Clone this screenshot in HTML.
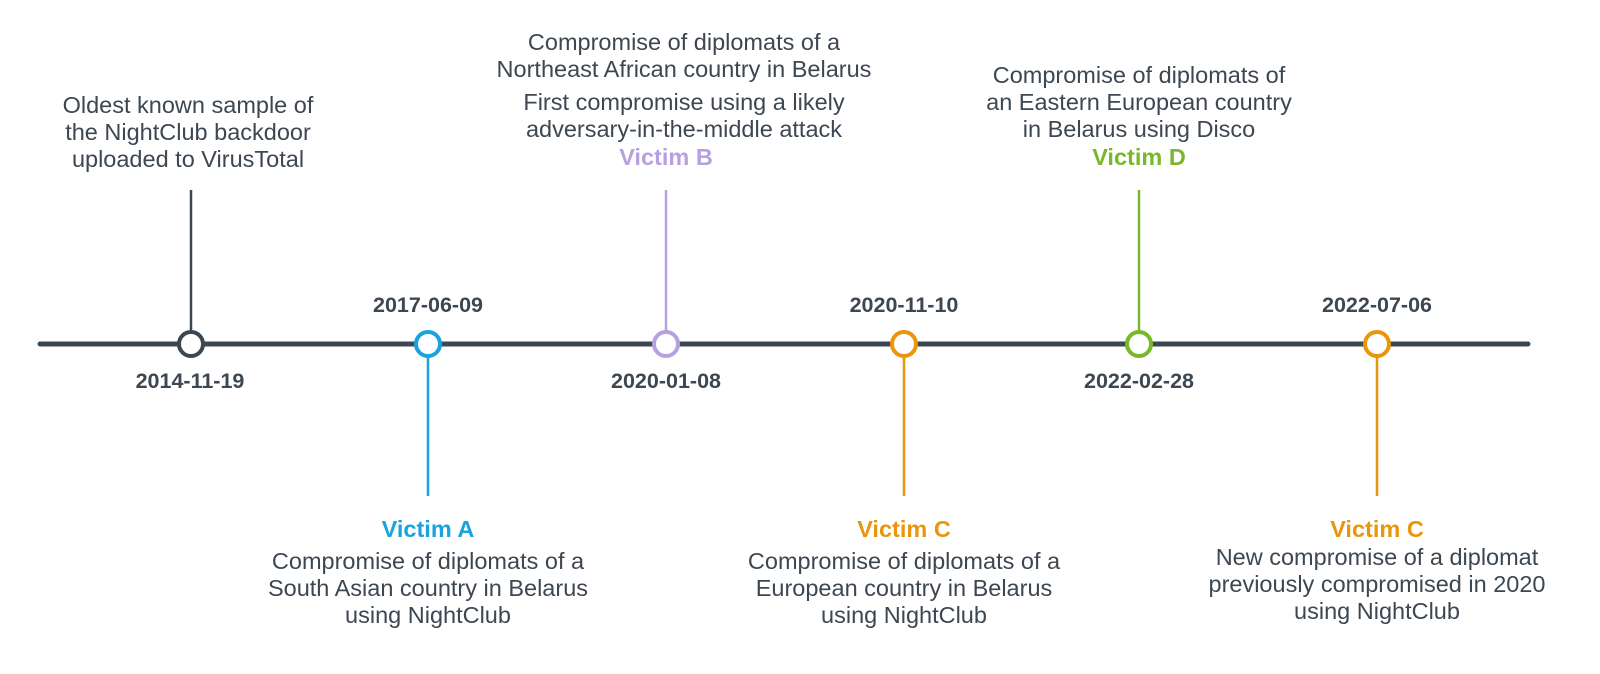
<!DOCTYPE html>
<html><head><meta charset="utf-8"><style>
html,body{margin:0;padding:0;background:#fff;}
svg{display:block;}
text{font-family:"Liberation Sans",sans-serif;font-size:23.5px;fill:#3d4752;text-anchor:middle;dominant-baseline:central;}
.d{font-weight:bold;font-size:21.5px;}
.v{font-weight:bold;font-size:23.5px;}
</style></head><body>
<svg width="1600" height="674" viewBox="0 0 1600 674">
<line x1="40" y1="344" x2="1528" y2="344" stroke="#3d4752" stroke-width="5" stroke-linecap="round"/>
<line x1="191" y1="190" x2="191" y2="332" stroke="#3d4752" stroke-width="2.5"/>
<line x1="428" y1="356" x2="428" y2="496" stroke="#1aa3dc" stroke-width="2.5"/>
<line x1="666" y1="190" x2="666" y2="332" stroke="#b7a0e0" stroke-width="2.5"/>
<line x1="904" y1="356" x2="904" y2="496" stroke="#e8960c" stroke-width="2.5"/>
<line x1="1139" y1="190" x2="1139" y2="332" stroke="#78b82a" stroke-width="2.5"/>
<line x1="1377" y1="356" x2="1377" y2="496" stroke="#e8960c" stroke-width="2.5"/>
<circle cx="191" cy="344" r="12" fill="#fff" stroke="#3d4752" stroke-width="4"/>
<circle cx="428" cy="344" r="12" fill="#fff" stroke="#1aa3dc" stroke-width="4"/>
<circle cx="666" cy="344" r="12" fill="#fff" stroke="#b7a0e0" stroke-width="4"/>
<circle cx="904" cy="344" r="12" fill="#fff" stroke="#e8960c" stroke-width="4"/>
<circle cx="1139" cy="344" r="12" fill="#fff" stroke="#78b82a" stroke-width="4"/>
<circle cx="1377" cy="344" r="12" fill="#fff" stroke="#e8960c" stroke-width="4"/>

<text x="188" y="105">Oldest known sample of</text>
<text x="188" y="132">the NightClub backdoor</text>
<text x="188" y="159">uploaded to VirusTotal</text>
<text class="d" x="190" y="381">2014-11-19</text>

<text class="d" x="428" y="305">2017-06-09</text>
<text class="v" x="428" y="529" style="fill:#1aa3dc">Victim A</text>
<text x="428" y="561">Compromise of diplomats of a</text>
<text x="428" y="588">South Asian country in Belarus</text>
<text x="428" y="615">using NightClub</text>

<text x="684" y="42">Compromise of diplomats of a</text>
<text x="684" y="69">Northeast African country in Belarus</text>
<text x="684" y="102">First compromise using a likely</text>
<text x="684" y="129">adversary-in-the-middle attack</text>
<text class="v" x="666" y="157" style="fill:#b7a0e0">Victim B</text>
<text class="d" x="666" y="381">2020-01-08</text>

<text class="d" x="904" y="305">2020-11-10</text>
<text class="v" x="904" y="529" style="fill:#e8960c">Victim C</text>
<text x="904" y="561">Compromise of diplomats of a</text>
<text x="904" y="588">European country in Belarus</text>
<text x="904" y="615">using NightClub</text>

<text x="1139" y="75">Compromise of diplomats of</text>
<text x="1139" y="102">an Eastern European country</text>
<text x="1139" y="129">in Belarus using Disco</text>
<text class="v" x="1139" y="157" style="fill:#78b82a">Victim D</text>
<text class="d" x="1139" y="381">2022-02-28</text>

<text class="d" x="1377" y="305">2022-07-06</text>
<text class="v" x="1377" y="529" style="fill:#e8960c">Victim C</text>
<text x="1377" y="557">New compromise of a diplomat</text>
<text x="1377" y="584">previously compromised in 2020</text>
<text x="1377" y="611">using NightClub</text>
</svg>
</body></html>
